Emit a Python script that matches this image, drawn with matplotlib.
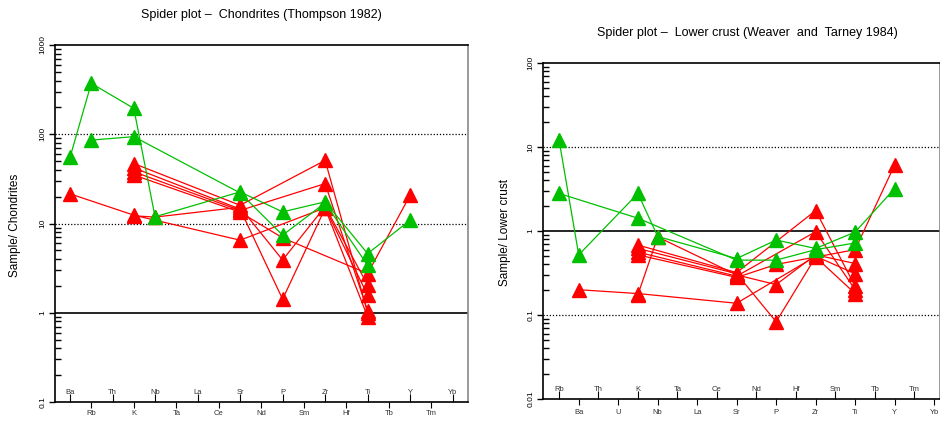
import numpy as np
import matplotlib
matplotlib.use('Agg')
import matplotlib.pyplot as plt
from matplotlib.ticker import LogLocator, NullFormatter, FixedLocator

plt.rcParams['font.family'] = ['Liberation Sans', 'DejaVu Sans']

# element order on each diagram
chon_elements = ['Ba', 'Rb', 'Th', 'K', 'Nb', 'Ta', 'La', 'Ce', 'Sr', 'Nd',
                 'P', 'Sm', 'Zr', 'Hf', 'Ti', 'Tb', 'Y', 'Tm', 'Yb']
crust_elements = ['Rb', 'Ba', 'Th', 'U', 'K', 'Nb', 'Ta', 'La', 'Ce', 'Sr',
                  'Nd', 'P', 'Hf', 'Zr', 'Sm', 'Ti', 'Tb', 'Y', 'Tm', 'Yb']

# chondrite normalised samples (Thompson 1982)
chon_red = [
    {'Ba': 21.5, 'K': 12.4, 'Sr': 6.5, 'Zr': 15, 'Ti': 1.57},
    {'K': 12.2, 'Nb': 11.8, 'Sr': 15.2, 'P': 3.9, 'Zr': 15.5, 'Ti': 2.04},
    {'K': 47, 'Sr': 16, 'Zr': 51, 'Ti': 1.0},
    {'K': 42, 'Sr': 14.5, 'P': 1.42, 'Zr': 14.8, 'Ti': 0.9},
    {'K': 38, 'Sr': 14, 'Zr': 28, 'Ti': 1.05},
    {'K': 35, 'Sr': 13.4, 'P': 6.9, 'Ti': 2.75, 'Y': 20.8},
]
chon_green = [
    {'Ba': 55, 'Rb': 372, 'K': 195, 'Nb': 11.9, 'Sr': 22.6, 'P': 13.5,
     'Zr': 17.5, 'Ti': 4.6, 'Y': 10.9},
    {'Rb': 86, 'K': 94, 'Sr': 22, 'P': 7.4, 'Zr': 17, 'Ti': 3.4},
]

# lower crust normalised samples (Weaver and Tarney 1984)
crust_red = [
    {'Ba': 0.2, 'K': 0.18, 'Sr': 0.138, 'Zr': 0.5, 'Ti': 0.31},
    {'K': 0.175, 'Nb': 0.85, 'Sr': 0.3, 'P': 0.23, 'Zr': 0.52, 'Ti': 0.41},
    {'K': 0.68, 'Sr': 0.32, 'Zr': 1.75, 'Ti': 0.22},
    {'K': 0.62, 'Sr': 0.31, 'P': 0.083, 'Zr': 0.49, 'Ti': 0.18},
    {'K': 0.56, 'Sr': 0.29, 'Zr': 0.98, 'Ti': 0.2},
    {'K': 0.52, 'Sr': 0.28, 'P': 0.4, 'Ti': 0.6, 'Y': 6.1},
]
crust_green = [
    {'Rb': 12.2, 'Ba': 0.52, 'K': 2.8, 'Nb': 0.86, 'Sr': 0.47, 'P': 0.78,
     'Zr': 0.62, 'Ti': 0.97, 'Y': 3.2},
    {'Rb': 2.8, 'K': 1.42, 'Sr': 0.45, 'P': 0.45, 'Zr': 0.6, 'Ti': 0.72},
]

RED = '#ff0000'
GREEN = '#00c000'


def spider(ax, elements, red, green, ylim, xlim, title, tx, ty, ylab, lx, ly,
           xpad):
    pos = {el: i + 1 for i, el in enumerate(elements)}
    # red first, green drawn on top
    for samples, col in [(red, RED), (green, GREEN)]:
        for s in samples:
            xs = [pos[e] for e in elements if e in s]
            ys = [s[e] for e in elements if e in s]
            ax.plot(xs, ys, color=col, lw=0.9, marker='^', ms=10,
                    mec=col, mfc=col, zorder=3)

    ax.set_yscale('log')
    ax.set_ylim(*ylim)
    ax.set_xlim(*xlim)

    # horizontal reference lines
    decades = 10.0 ** np.arange(np.log10(ylim[0]) + 1, np.log10(ylim[1]))
    for d in decades:
        if d == 1:
            ax.axhline(d, color='black', lw=1.2, zorder=1)
        else:
            ax.axhline(d, color='black', lw=0.9, ls=(0, (1, 1.5)), zorder=1)

    # y ticks: majors out, minors in
    majors = 10.0 ** np.arange(np.log10(ylim[0]), np.log10(ylim[1]) + 1)
    ax.yaxis.set_minor_locator(LogLocator(base=10, subs=np.arange(2, 10)))
    ax.yaxis.set_minor_formatter(NullFormatter())
    ax.set_yticks(majors)
    ax.set_yticklabels(['%g' % v for v in majors], rotation=90,
                       va='center', fontsize=6)
    ax.tick_params(axis='y', which='major', direction='out', length=4,
                   width=1, pad=2)
    ax.tick_params(axis='y', which='minor', direction='in', length=4,
                   width=1)

    # x ticks: odd positions inside with labels inside, even positions outside
    odd = [i + 1 for i in range(len(elements)) if i % 2 == 0]
    even = [i + 1 for i in range(len(elements)) if i % 2 == 1]
    ax.xaxis.set_major_locator(FixedLocator(even))
    ax.set_xticklabels([elements[i - 1] for i in even], fontsize=5.5,
                       color='#333333')
    ax.xaxis.set_minor_locator(FixedLocator(odd))
    ax.tick_params(axis='x', which='major', direction='out', length=4.5,
                   width=0.8, pad=xpad)
    ax.tick_params(axis='x', which='minor', direction='in', length=5.5,
                   width=0.8)
    for i in odd:
        ax.text(i, 0.028, elements[i - 1], transform=ax.get_xaxis_transform(),
                ha='center', va='center', fontsize=5.5, color='#333333')

    for side in ['left', 'bottom', 'top']:
        ax.spines[side].set_color('black')
        ax.spines[side].set_linewidth(1.2)
    ax.spines['right'].set_color('#888888')
    ax.spines['right'].set_linewidth(1.2)

    fig.text(tx, ty, title, ha='center', va='center', fontsize=9)
    fig.text(lx, ly, ylab, rotation=90, ha='center', va='center', fontsize=8.5)


fig = plt.figure(figsize=(9.4, 4.21), dpi=100)
W, H = 940.0, 421.0

ax1 = fig.add_axes([55 / W, (H - 402) / H, 413 / W, 357 / H])
spider(ax1, chon_elements, chon_red, chon_green, (0.1, 1000), (0.294, 19.72),
       'Spider plot \u2013  Chondrites (Thompson 1982)', 261 / W, 1 - 15 / H,
       'Sample/ Chondrites', 15 / W, 1 - 225 / H, 1.2)

ax2 = fig.add_axes([543 / W, (H - 399) / H, 397 / W, 336 / H])
spider(ax2, crust_elements, crust_red, crust_green, (0.01, 100), (0.19, 20.3),
       'Spider plot \u2013  Lower crust (Weaver  and  Tarney 1984)', 747 / W,
       1 - 33 / H, 'Sample/ Lower crust', 505 / W, 1 - 232 / H, 3)

fig.savefig('out.png', dpi=100)
